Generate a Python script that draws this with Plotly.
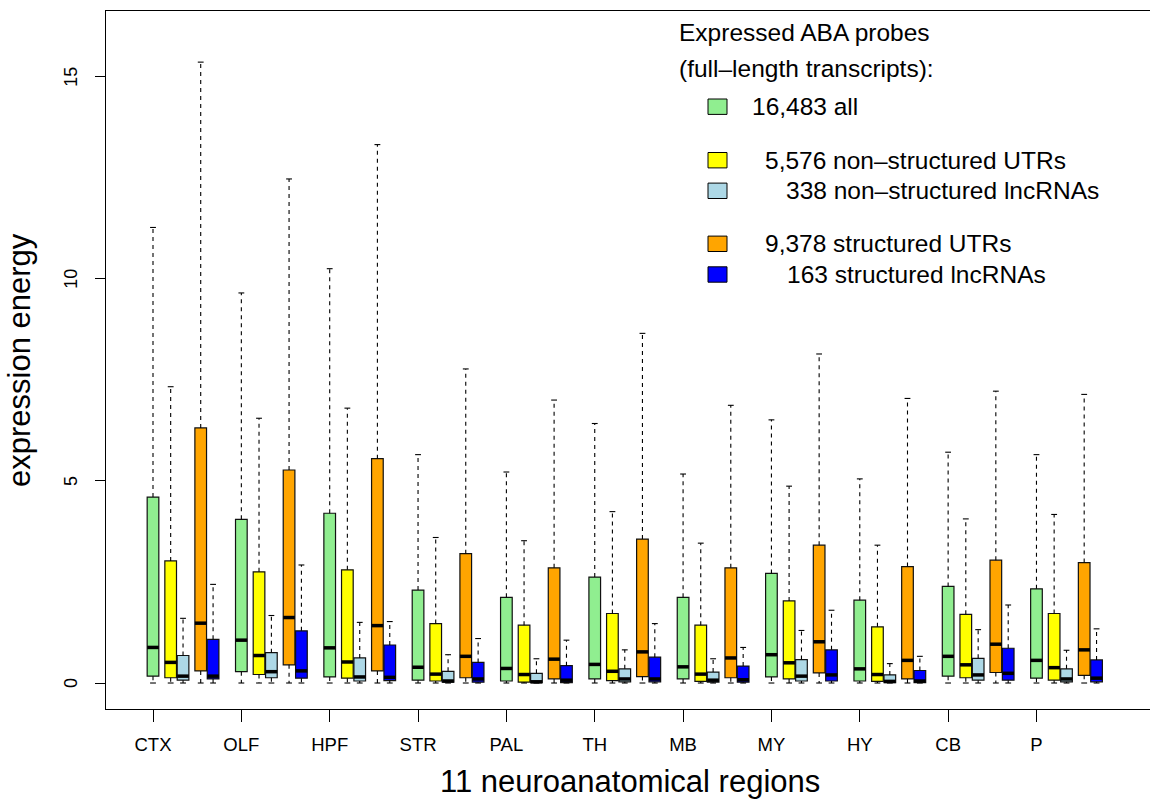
import plotly.graph_objects as go

# ---------------- data ----------------
regions = ["CTX", "OLF", "HPF", "STR", "PAL", "TH", "MB", "MY", "HY", "CB", "P"]
y_ticks = [0, 5, 10, 15]

series_names = ["16,483 all", "5,576 non–structured UTRs", "338 non–structured lncRNAs",
                "9,378 structured UTRs", "163 structured lncRNAs"]
series_colors = ["#90EE90", "#FFFF00", "#ADD8E6", "#FFA500", "#0000FF"]
series_offsets = [0.0, 0.2, 0.34, 0.54, 0.68]

# all probes
all_hi = [11.27, 9.65, 10.25, 5.65, 5.22, 6.42, 5.17, 6.51, 5.05, 5.71, 5.65]
all_q3 = [4.60, 4.05, 4.20, 2.30, 2.12, 2.62, 2.12, 2.71, 2.05, 2.39, 2.33]
all_med = [0.88, 1.06, 0.87, 0.39, 0.36, 0.46, 0.40, 0.70, 0.35, 0.66, 0.56]
all_q1 = [0.17, 0.28, 0.15, 0.07, 0.05, 0.10, 0.10, 0.15, 0.05, 0.17, 0.12]
all_lo = [0, 0, 0, 0, 0, 0, 0, 0, 0, 0, 0]

# non-structured UTRs
nsutr_hi = [7.33, 6.55, 6.80, 3.60, 3.52, 4.24, 3.46, 4.87, 3.41, 4.06, 4.17]
nsutr_q3 = [3.02, 2.75, 2.80, 1.47, 1.43, 1.72, 1.43, 2.03, 1.39, 1.70, 1.72]
nsutr_med = [0.51, 0.68, 0.52, 0.22, 0.21, 0.29, 0.22, 0.50, 0.21, 0.45, 0.38]
nsutr_q1 = [0.13, 0.21, 0.12, 0.05, 0.02, 0.06, 0.04, 0.10, 0.04, 0.13, 0.07]
nsutr_lo = [0, 0, 0, 0, 0, 0, 0, 0, 0, 0, 0]

# non-structured lncRNAs
nslnc_hi = [1.60, 1.67, 1.50, 0.70, 0.60, 0.82, 0.60, 1.30, 0.48, 1.32, 0.81]
nslnc_q3 = [0.68, 0.75, 0.62, 0.29, 0.24, 0.35, 0.27, 0.58, 0.20, 0.61, 0.35]
nslnc_med = [0.17, 0.28, 0.15, 0.05, 0.03, 0.10, 0.07, 0.17, 0.04, 0.20, 0.10]
nslnc_q1 = [0.07, 0.13, 0.05, 0.02, 0.01, 0.03, 0.02, 0.05, 0.01, 0.07, 0.03]
nslnc_lo = [0, 0, 0, 0, 0, 0, 0, 0, 0, 0, 0]

# structured UTRs
sutr_hi = [15.36, 12.47, 13.32, 7.77, 7.00, 8.65, 6.87, 8.14, 7.04, 7.22, 7.14]
sutr_q3 = [6.31, 5.27, 5.55, 3.20, 2.85, 3.56, 2.85, 3.41, 2.88, 3.04, 2.98]
sutr_med = [1.48, 1.62, 1.42, 0.66, 0.59, 0.77, 0.62, 1.02, 0.56, 0.96, 0.82]
sutr_q1 = [0.30, 0.45, 0.30, 0.13, 0.10, 0.16, 0.13, 0.25, 0.10, 0.26, 0.19]
sutr_lo = [0, 0, 0, 0, 0, 0, 0, 0, 0, 0, 0]

# structured lncRNAs
slnc_hi = [2.44, 2.92, 1.52, 1.10, 1.06, 1.47, 0.88, 1.80, 0.66, 1.93, 1.34]
slnc_q3 = [1.08, 1.29, 0.94, 0.51, 0.43, 0.64, 0.42, 0.82, 0.31, 0.86, 0.57]
slnc_med = [0.17, 0.30, 0.14, 0.10, 0.07, 0.10, 0.08, 0.20, 0.05, 0.24, 0.12]
slnc_q1 = [0.10, 0.12, 0.06, 0.02, 0.01, 0.03, 0.02, 0.05, 0.01, 0.07, 0.03]
slnc_lo = [0, 0, 0, 0, 0, 0, 0, 0, 0, 0, 0]

stats = [
    (all_lo, all_q1, all_med, all_q3, all_hi),
    (nsutr_lo, nsutr_q1, nsutr_med, nsutr_q3, nsutr_hi),
    (nslnc_lo, nslnc_q1, nslnc_med, nslnc_q3, nslnc_hi),
    (sutr_lo, sutr_q1, sutr_med, sutr_q3, sutr_hi),
    (slnc_lo, slnc_q1, slnc_med, slnc_q3, slnc_hi),
]

# ---------------- figure ----------------
W, H = 1150, 802
ML, MR, MT, MB = 106, 0, 11, 93
BOX_W = 0.132
CAP_HALF = BOX_W / 4
FONT = "Liberation Sans, Arial, Helvetica, sans-serif"

fig = go.Figure()

whisk_x, whisk_y, cap_x, cap_y, med_x, med_y = [], [], [], [], [], []
for s, (lo, q1, med, q3, hi) in enumerate(stats):
    xs = [i + 1 + series_offsets[s] for i in range(len(regions))]
    fig.add_trace(go.Bar(
        x=xs, y=[b - a for a, b in zip(q1, q3)], base=q1, width=BOX_W,
        marker=dict(color=series_colors[s], line=dict(color="#111111", width=1.2)),
        showlegend=False, name=series_names[s]))
    for x, a, b, c, d, e in zip(xs, lo, q1, med, q3, hi):
        whisk_x += [x, x, None, x, x, None]
        whisk_y += [d, e, None, b, a, None]
        cap_x += [x - CAP_HALF, x + CAP_HALF, None, x - CAP_HALF, x + CAP_HALF, None]
        cap_y += [e, e, None, a, a, None]
        med_x += [x - BOX_W / 2, x + BOX_W / 2, None]
        med_y += [c, c, None]

fig.add_trace(go.Scatter(x=whisk_x, y=whisk_y, mode="lines", showlegend=False,
                         line=dict(color="black", width=1.1, dash="4px,4px")))
fig.add_trace(go.Scatter(x=cap_x, y=cap_y, mode="lines", showlegend=False,
                         line=dict(color="black", width=1.1)))
fig.add_trace(go.Scatter(x=med_x, y=med_y, mode="lines", showlegend=False,
                         line=dict(color="black", width=3.5)))

pw, ph = W - ML - MR, H - MT - MB


def px(x):
    return (x - ML) / pw


def py(y):
    return (H - MB - y) / ph


def note(text, x, y, size, xanchor="left", angle=0):
    return dict(text=text, x=px(x), y=py(y), xref="paper", yref="paper",
                textangle=angle, font=dict(size=size), showarrow=False,
                xanchor=xanchor, yanchor="middle")


annotations = [
    note("expression energy", 19, 360, 31, "center", -90),
    note("11 neuroanatomical regions", 630, 781, 31, "center"),
    note("Expressed ABA probes", 677, 32, 24.5),
    note("(full–length transcripts):", 677, 68.5, 24.5),
]
# y tick labels (rotated, R style) placed on the y axis scale
for v in y_ticks:
    annotations.append(dict(text=str(v), x=px(71), y=v, xref="paper", yref="y",
                            textangle=-90, font=dict(size=18), showarrow=False,
                            xanchor="center", yanchor="middle"))

legend_rows = [
    (106.7, 750, series_names[0]),
    (160.2, 763, series_names[1]),
    (190.8, 784, series_names[2]),
    (243.8, 763, series_names[3]),
    (274.5, 785, series_names[4]),
]
shapes = []
for (yc, xt, label), col in zip(legend_rows, series_colors):
    shapes.append(dict(type="rect", xref="paper", yref="paper",
                       x0=px(708), x1=px(727), y0=py(yc - 7.7), y1=py(yc + 7.7),
                       fillcolor=col, line=dict(color="black", width=1)))
    annotations.append(note(label, xt, yc, 24.5))

fig.update_layout(
    width=W, height=H,
    margin=dict(l=ML, r=MR, t=MT, b=MB, pad=0, autoexpand=False),
    paper_bgcolor="white", plot_bgcolor="white",
    font=dict(family=FONT, color="black"),
    barmode="overlay",
    showlegend=False,
    annotations=annotations,
    shapes=shapes,
    xaxis=dict(range=[0.468, 12.285], tickmode="array",
               tickvals=list(range(1, len(regions) + 1)), ticktext=regions,
               ticks="outside", ticklen=12, tickwidth=1, tickcolor="black",
               showline=True, linecolor="black", linewidth=1.3, mirror=True,
               showgrid=False, zeroline=False, tickfont=dict(size=18.5),
               automargin=False, ticklabelstandoff=7),
    yaxis=dict(range=[-0.643, 16.625], tickmode="array", tickvals=y_ticks,
               ticks="outside", ticklen=10, tickwidth=1, tickcolor="black",
               showline=True, linecolor="black", linewidth=1.3,
               showticklabels=False, showgrid=False, zeroline=False,
               automargin=False),
)

fig.write_html("out.html", config={"displayModeBar": False},
               post_script="document.body.style.margin='0';")
